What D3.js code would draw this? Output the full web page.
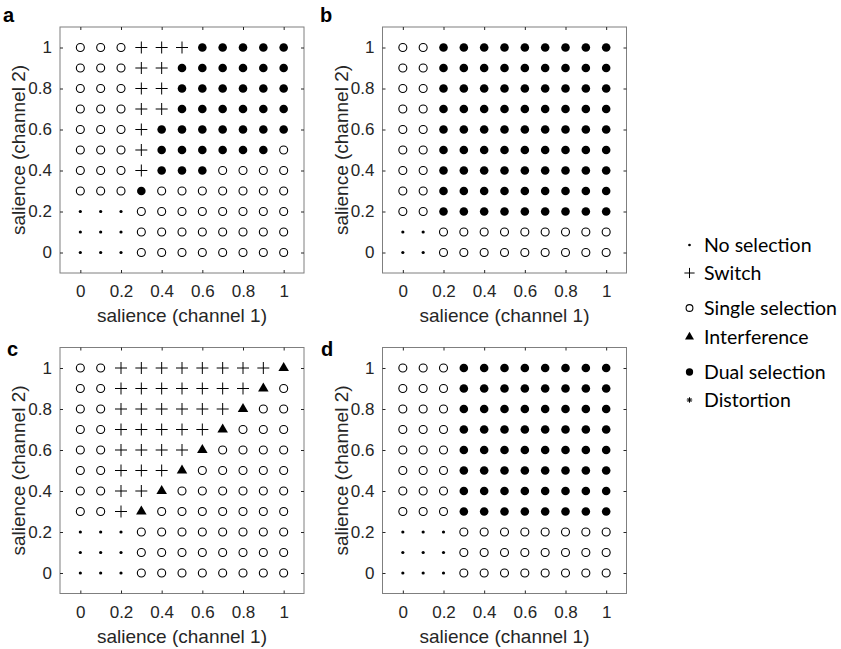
<!DOCTYPE html>
<html>
<head>
<meta charset="utf-8">
<script src="https://cdn.jsdelivr.net/npm/d3@7"></script>
<style>
  html, body { margin: 0; padding: 0; background: #fff; }
  svg { display: block; }
</style>
</head>
<body>
<svg id="chart" width="841" height="649"></svg>
<script>
// ---------------- data ----------------
const salience = [0, 0.1, 0.2, 0.3, 0.4, 0.5, 0.6, 0.7, 0.8, 0.9, 1];
const tickValues = [0, 0.2, 0.4, 0.6, 0.8, 1];
const tickLabels = ["0", "0.2", "0.4", "0.6", "0.8", "1"];
const panelNames = ["a", "b", "c", "d"];
const xTitle = "salience (channel 1)";
const yTitle = "salience (channel 2)";

// outcome codes: N no selection, S switch, O single selection,
// I interference, D dual selection, X distortion
const outcomeCodes = ["N", "S", "O", "I", "D", "X"];
const outcomeLabels = ["No selection", "Switch", "Single selection", "Interference", "Dual selection", "Distortion"];

// rows listed from channel 2 = 1 (top) down to 0; columns channel 1 = 0..1
const panelA = [
  "OOOSSSDDDDD",
  "OOOSSDDDDDD",
  "OOOSSDDDDDD",
  "OOOSSDDDDDD",
  "OOOSDDDDDDD",
  "OOOSDDDDDDO",
  "OOOSDDDOOOO",
  "OOODOOOOOOO",
  "NNNOOOOOOOO",
  "NNNOOOOOOOO",
  "NNNOOOOOOOO"
];
const panelB = [
  "OODDDDDDDDD",
  "OODDDDDDDDD",
  "OODDDDDDDDD",
  "OODDDDDDDDD",
  "OODDDDDDDDD",
  "OODDDDDDDDD",
  "OODDDDDDDDD",
  "OODDDDDDDDD",
  "OODDDDDDDDD",
  "NNOOOOOOOOO",
  "NNOOOOOOOOO"
];
const panelC = [
  "OOSSSSSSSSI",
  "OOSSSSSSSIO",
  "OOSSSSSSIOO",
  "OOSSSSSIOOO",
  "OOSSSSIOOOO",
  "OOSSSIOOOOO",
  "OOSSIOOOOOO",
  "OOSIOOOOOOO",
  "NNNOOOOOOOO",
  "NNNOOOOOOOO",
  "NNNOOOOOOOO"
];
const panelD = [
  "OOODDDDDDDD",
  "OOODDDDDDDD",
  "OOODDDDDDDD",
  "OOODDDDDDDD",
  "OOODDDDDDDD",
  "OOODDDDDDDD",
  "OOODDDDDDDD",
  "OOODDDDDDDD",
  "NNNOOOOOOOO",
  "NNNOOOOOOOO",
  "NNNOOOOOOOO"
];
const panelData = [panelA, panelB, panelC, panelD];

// ---------------- layout ----------------
const layout = [
  { left: 60,    top: 27,    w: 244, h: 246, lx: 3,   ly: 22 },
  { left: 382.5, top: 27,    w: 244, h: 246, lx: 320, ly: 22 },
  { left: 60,    top: 347.5, w: 244, h: 246, lx: 7,   ly: 356 },
  { left: 382.5, top: 347.5, w: 244, h: 246, lx: 321, ly: 356 }
];

const svg = d3.select("#chart");
const axisFont = "'Liberation Sans', Arial, Helvetica, sans-serif";
const textColor = "#262626";

function drawMarker(g, code, x, y, s) {
  if (code === "N") {
    g.append("circle").attr("cx", x).attr("cy", y).attr("r", 1.6 * s).attr("fill", "#000");
  } else if (code === "O") {
    g.append("circle").attr("cx", x).attr("cy", y).attr("r", 4.0 * s)
      .attr("fill", "none").attr("stroke", "#000").attr("stroke-width", 1.1);
  } else if (code === "D") {
    g.append("circle").attr("cx", x).attr("cy", y).attr("r", 4.3 * s).attr("fill", "#000");
  } else if (code === "S") {
    const a = 6 * s;
    g.append("path").attr("transform", `translate(${x},${y})`)
      .attr("d", `M${-a},0H${a}M0,${-a}V${a}`)
      .attr("stroke", "#000").attr("stroke-width", 1).attr("fill", "none");
  } else if (code === "I") {
    g.append("path").attr("transform", `translate(${x},${y})`)
      .attr("d", d3.symbol().type(d3.symbolTriangle).size(48 * s * s)())
      .attr("fill", "#000");
  } else if (code === "X") {
    const a = 3.2 * s, b = a * 0.72;
    g.append("path").attr("transform", `translate(${x},${y})`)
      .attr("d", `M${-a},0H${a}M0,${-a}V${a}M${-b},${-b}L${b},${b}M${-b},${b}L${b},${-b}`)
      .attr("stroke", "#000").attr("stroke-width", 1).attr("fill", "none");
  }
}

panelData.forEach((rows, pi) => {
  const L = layout[pi];
  const x = d3.scaleLinear().domain([-0.1, 1.1]).range([L.left, L.left + L.w]);
  const y = d3.scaleLinear().domain([-0.1, 1.1]).range([L.top + L.h, L.top]);
  const g = svg.append("g");

  g.append("rect").attr("x", L.left).attr("y", L.top).attr("width", L.w).attr("height", L.h)
    .attr("fill", "#fff").attr("stroke", "#7f7f7f").attr("stroke-width", 1);

  const fmt = (d) => tickLabels[tickValues.indexOf(d)];
  const styleAxis = (sel, showText) => {
    sel.select(".domain").remove();
    sel.selectAll(".tick line").attr("stroke", "#262626");
    sel.selectAll(".tick text").attr("fill", textColor)
      .style("font-family", axisFont).style("font-size", "17px");
    if (!showText) sel.selectAll(".tick text").remove();
  };

  g.append("g").attr("transform", `translate(0,${L.top + L.h})`)
    .call(d3.axisBottom(x).tickValues(tickValues).tickFormat(fmt).tickSize(-3).tickSizeOuter(0).tickPadding(12))
    .call(s => styleAxis(s, true));
  g.append("g").attr("transform", `translate(0,${L.top})`)
    .call(d3.axisTop(x).tickValues(tickValues).tickFormat(() => "").tickSize(-3).tickSizeOuter(0))
    .call(s => styleAxis(s, false));
  g.append("g").attr("transform", `translate(${L.left},0)`)
    .call(d3.axisLeft(y).tickValues(tickValues).tickFormat(fmt).tickSize(-3).tickSizeOuter(0).tickPadding(8))
    .call(s => styleAxis(s, true));
  g.append("g").attr("transform", `translate(${L.left + L.w},0)`)
    .call(d3.axisRight(y).tickValues(tickValues).tickFormat(() => "").tickSize(-3).tickSizeOuter(0))
    .call(s => styleAxis(s, false));

  rows.forEach((row, ri) => {
    const yv = salience[salience.length - 1 - ri];
    row.split("").forEach((code, ci) => {
      drawMarker(g, code, x(salience[ci]), y(yv), 1);
    });
  });

  g.append("text").attr("x", L.left + L.w / 2).attr("y", L.top + L.h + 49)
    .attr("text-anchor", "middle").attr("fill", textColor)
    .style("font-family", axisFont).style("font-size", "19px").text(xTitle);
  g.append("text")
    .attr("transform", `translate(${L.left - 35},${L.top + L.h / 2}) rotate(-90)`)
    .attr("text-anchor", "middle").attr("fill", textColor)
    .style("font-family", axisFont).style("font-size", "19px").text(yTitle);

  g.append("text").attr("x", L.lx).attr("y", L.ly)
    .attr("fill", "#000").style("font-family", axisFont).style("font-weight", "bold")
    .style("font-size", "20px").text(panelNames[pi]);
});

// ---------------- legend ----------------
const legendY = [245, 273, 308, 337, 372, 400];
const legend = svg.append("g");
outcomeCodes.forEach((code, i) => {
  drawMarker(legend, code, 689.5, legendY[i], 0.85);
  legend.append("text").attr("x", 704).attr("y", legendY[i] + 6.5)
    .attr("fill", "#000").style("font-family", "Lato, 'Open Sans', sans-serif")
    .style("font-size", "19.5px").text(outcomeLabels[i]);
});
</script>
</body>
</html>
